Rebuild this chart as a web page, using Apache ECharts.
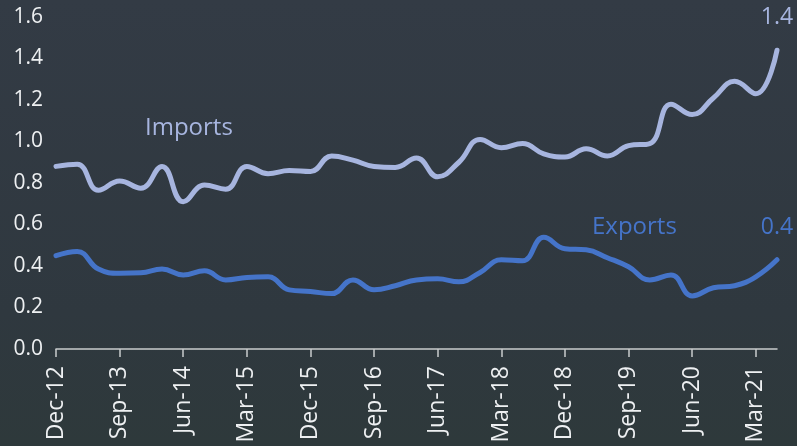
<!DOCTYPE html>
<html>
<head>
<meta charset="utf-8">
<script src="https://cdn.jsdelivr.net/npm/echarts@6/dist/echarts.min.js"></script>
<style>
  html, body { margin: 0; padding: 0; }
  #chart { width: 797px; height: 446px; }
</style>
</head>
<body>
<div id="chart"></div>
<script>
const quarters = [
  'Dec-12', 'Mar-13', 'Jun-13', 'Sep-13', 'Dec-13', 'Mar-14', 'Jun-14', 'Sep-14', 'Dec-14',
  'Mar-15', 'Jun-15', 'Sep-15', 'Dec-15', 'Mar-16', 'Jun-16', 'Sep-16', 'Dec-16',
  'Mar-17', 'Jun-17', 'Sep-17', 'Dec-17', 'Mar-18', 'Jun-18', 'Sep-18', 'Dec-18',
  'Mar-19', 'Jun-19', 'Sep-19', 'Dec-19', 'Mar-20', 'Jun-20', 'Sep-20', 'Dec-20',
  'Mar-21', 'Jun-21'
]
const imports = [
  0.88, 0.89, 0.765, 0.81, 0.775, 0.88, 0.71, 0.79, 0.77,
  0.88, 0.845, 0.86, 0.855, 0.93, 0.91, 0.88, 0.875,
  0.92, 0.83, 0.9, 1.01, 0.97, 0.99, 0.94, 0.925,
  0.965, 0.93, 0.98, 0.99, 1.18, 1.13, 1.21, 1.29,
  1.23, 1.44
]
const exports = [
  0.45, 0.47, 0.385, 0.365, 0.367, 0.385, 0.357, 0.377, 0.333,
  0.345, 0.348, 0.285, 0.277, 0.267, 0.333, 0.285, 0.305,
  0.333, 0.338, 0.324, 0.369, 0.43, 0.425, 0.538, 0.483,
  0.478, 0.44, 0.396, 0.333, 0.357, 0.256, 0.295, 0.305,
  0.348, 0.43
]
const yTicks = [0, 0.2, 0.4, 0.6, 0.8, 1.0, 1.2, 1.4, 1.6]

const font = '"Open Sans", "Noto Sans", sans-serif'
const importColor = '#a7b5df'
const exportColor = '#4574c9'

// only the last point gets a value label
function lastLabel (arr, dist, color) {
  return {
    show: true,
    position: 'top',
    distance: dist,
    color: color,
    fontFamily: font,
    fontSize: 23,
    fontWeight: 'normal',
    textBorderWidth: 0,
    formatter: p => (p.dataIndex === arr.length - 1 ? p.value.toFixed(1) : '')
  }
}

const $chart = echarts.init(document.getElementById('chart'))
$chart.setOption({
  backgroundColor: new echarts.graphic.LinearGradient(0, 0, 0, 1, [
    { offset: 0, color: '#333b45' },
    { offset: 0.7, color: '#2f383f' },
    { offset: 1, color: '#2e393b' }
  ]),
  animation: false,
  grid: { left: 56, right: 20, top: 17, bottom: 97 },
  xAxis: {
    type: 'category',
    boundaryGap: false,
    data: quarters,
    axisLine: { lineStyle: { color: '#c9cbcd', width: 1.5 } },
    axisTick: { show: true, interval: 2, length: 8, lineStyle: { color: '#c9cbcd', width: 1.5 } },
    axisLabel: {
      interval: 2,
      rotate: 90,
      margin: 17,
      color: '#eef0f2',
      fontFamily: font,
      fontSize: 23
    }
  },
  yAxis: {
    type: 'value',
    min: yTicks[0],
    max: yTicks[yTicks.length - 1],
    interval: 0.2,
    splitLine: { show: false },
    axisLine: { show: false },
    axisTick: { show: false },
    axisLabel: {
      margin: 13,
      color: '#eef0f2',
      fontFamily: font,
      fontSize: 21,
      formatter: v => v.toFixed(1)
    }
  },
  series: [
    {
      name: 'Imports',
      type: 'line',
      smooth: 0.45,
      symbol: 'circle',
      symbolSize: 1,
      showSymbol: true,
      data: imports,
      lineStyle: { color: importColor, width: 5, cap: 'round' },
      itemStyle: { color: importColor },
      label: lastLabel(imports, 21, importColor)
    },
    {
      name: 'Exports',
      type: 'line',
      smooth: 0.45,
      symbol: 'circle',
      symbolSize: 1,
      showSymbol: true,
      data: exports,
      lineStyle: { color: exportColor, width: 5, cap: 'round' },
      itemStyle: { color: exportColor },
      label: lastLabel(exports, 20, exportColor)
    }
  ],
  graphic: [
    {
      type: 'text',
      left: 145,
      top: 116,
      style: { text: 'Imports', fill: importColor, font: '24px ' + font }
    },
    {
      type: 'text',
      left: 592,
      top: 215,
      style: { text: 'Exports', fill: exportColor, font: '24px ' + font }
    }
  ]
})
</script>
</body>
</html>
